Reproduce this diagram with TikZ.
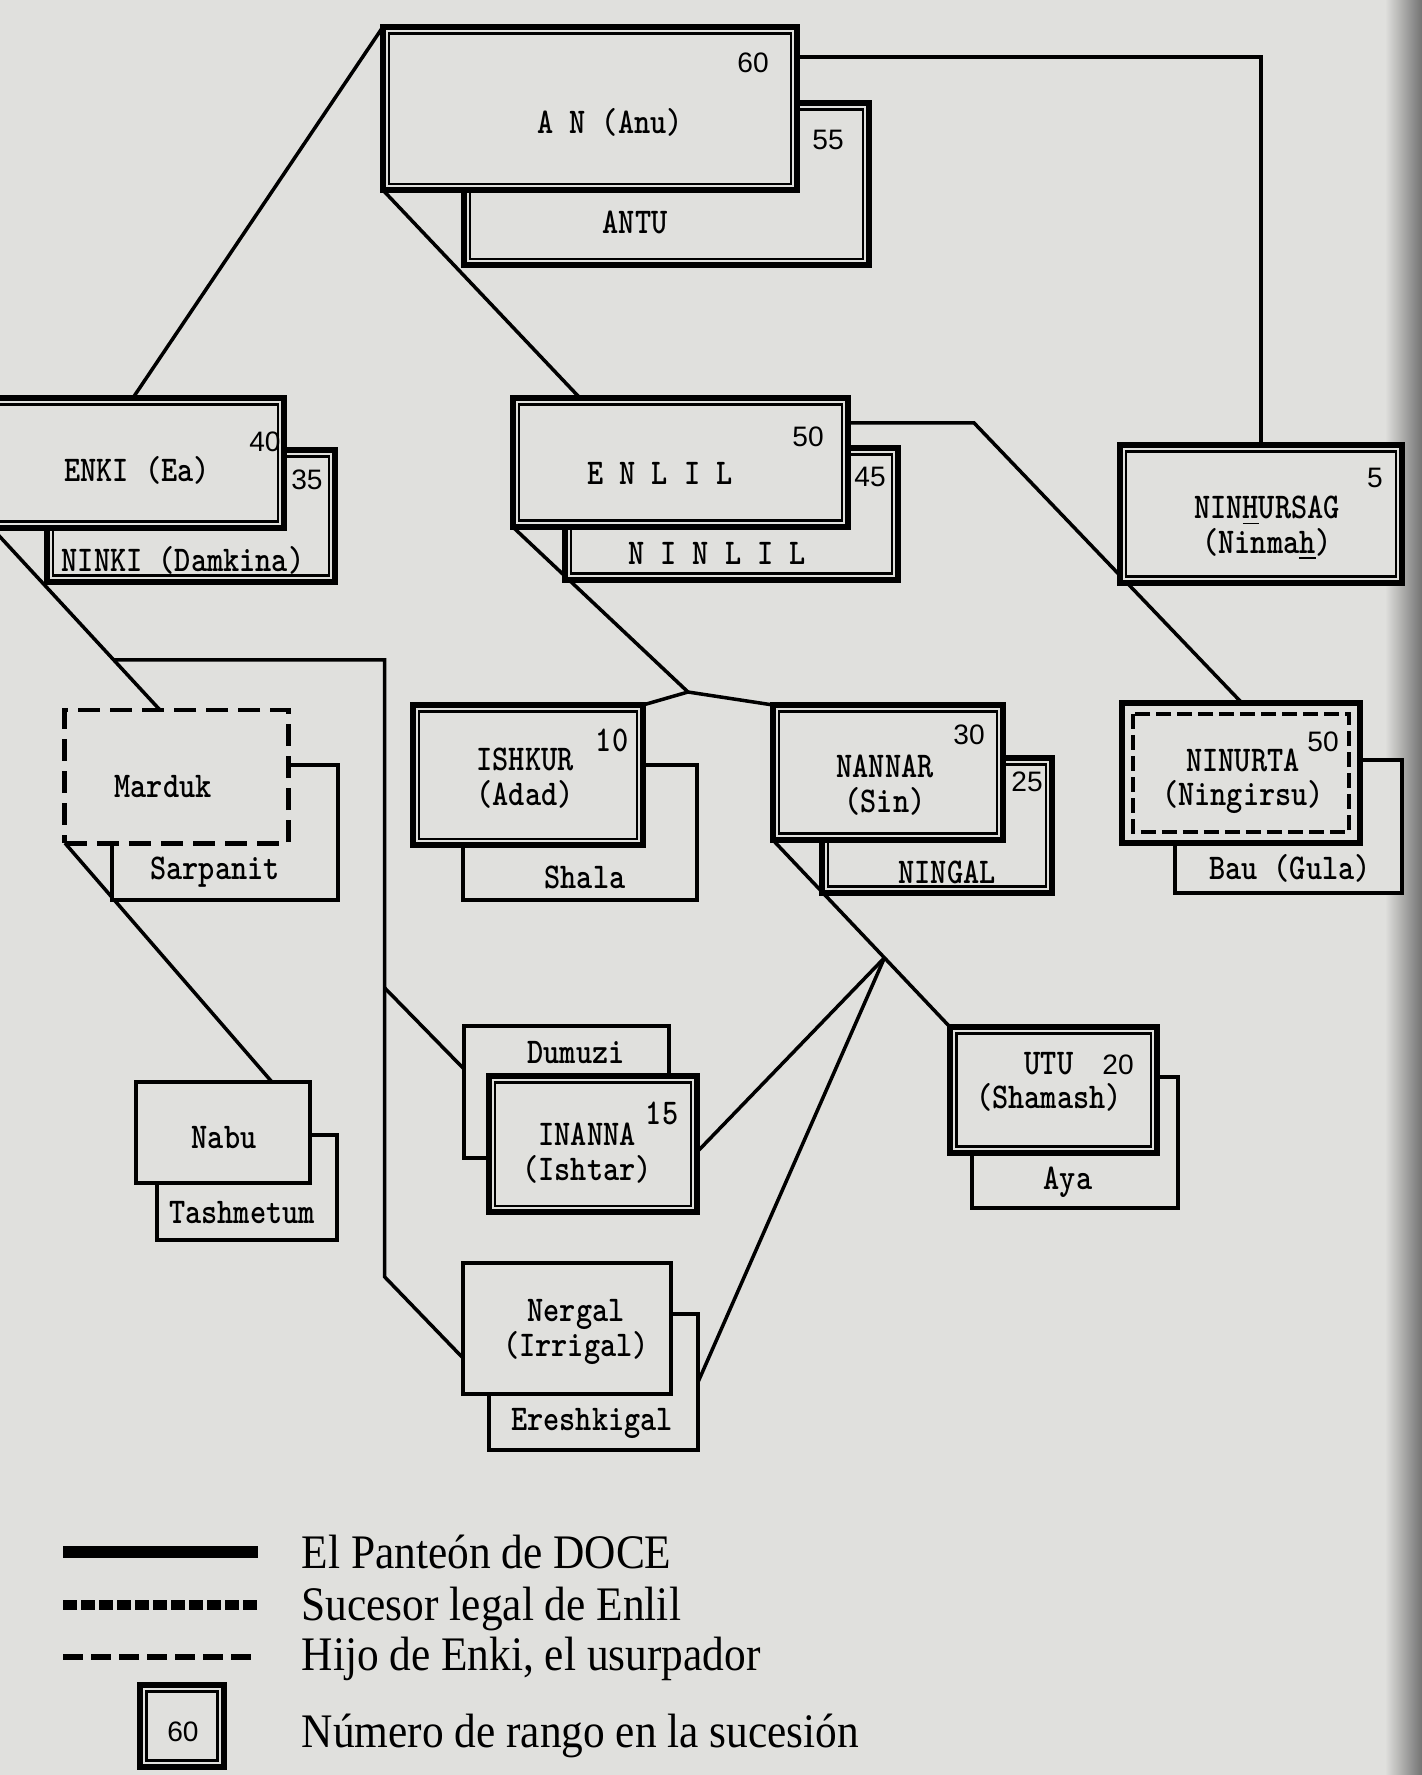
\documentclass[tikz,border=0pt]{standalone}
\usepackage{fontspec}
\setmainfont{Liberation Serif}
\newfontfamily\boxfont[FakeStretch=0.85]{lmmonolt10-bold.otf}
\newfontfamily\numfont{Liberation Sans}
\newfontfamily\legfont[FakeStretch=0.9]{Liberation Serif}
\usetikzlibrary{calc,backgrounds}
\definecolor{paper}{RGB}{224,224,221}
\tikzset{god/.style={draw,line width=1.8pt,fill=paper,outer sep=0pt,inner sep=0pt,
    path picture={\draw[line width=0.6pt] ([shift={(6.5,6.5)}]path picture bounding box.north west) rectangle ([shift={(-6.5,-6.5)}]path picture bounding box.south east);}}}
\tikzset{heir/.style={draw,line width=1.8pt,fill=paper,outer sep=0pt,inner sep=0pt,
    path picture={\draw[line width=1.2pt,dash pattern=on 0.15cm off 0.06cm] ([shift={(11,11)}]path picture bounding box.north west) rectangle ([shift={(-11,-11)}]path picture bounding box.south east);}}}
\tikzset{mate/.style={draw,line width=1.2pt,fill=paper,outer sep=0pt,inner sep=0pt}}
\tikzset{usurper/.style={draw,line width=1.4pt,dash pattern=on 0.22cm off 0.1cm,fill=paper,outer sep=0pt,inner sep=0pt}}
\tikzset{conn/.style={line width=1pt}}
\tikzset{godtxt/.style={font=\boxfont\fontsize{10.3}{9.8}\selectfont,align=center,inner sep=0pt}}
\tikzset{rnk/.style={font=\numfont\fontsize{8}{9}\selectfont,inner sep=0pt}}
\tikzset{legtxt/.style={font=\legfont\fontsize{13.7}{15}\selectfont,inner sep=0pt}}

\begin{document}
\begin{tikzpicture}[x=0.01cm,y=-0.01cm]
            \useasboundingbox (0,0) rectangle (1422,1775);
            % couples: partner behind, god in front
            \node[god, minimum width=4.05cm, minimum height=1.62cm] (antu) at (666.5,184) {};
            \node[god, minimum width=4.14cm, minimum height=1.63cm] (an) at (590,108.5) {};
            \node[god, minimum width=2.88cm, minimum height=1.32cm] (ninki) at (191,516) {};
            \node[god, minimum width=2.92cm, minimum height=1.30cm] (enki) at (138,463) {};
            \node[god, minimum width=3.33cm, minimum height=1.32cm] (ninlil) at (731.5,514) {};
            \node[god, minimum width=3.35cm, minimum height=1.29cm] (enlil) at (680.5,462.5) {};
            \node[god, minimum width=2.82cm, minimum height=1.38cm] (nhur) at (1261,514) {};
            \node[mate, minimum width=2.26cm, minimum height=1.35cm] (sarp) at (225,832.5) {};
            \node[usurper, minimum width=2.23cm, minimum height=1.33cm] (marduk) at (176.5,776.5) {};
            \node[mate, minimum width=2.34cm, minimum height=1.35cm] (shala) at (580,832.5) {};
            \node[god, minimum width=2.30cm, minimum height=1.40cm] (ishkur) at (528,775) {};
            \node[god, minimum width=2.30cm, minimum height=1.35cm] (ningal) at (937,825.5) {};
            \node[god, minimum width=2.30cm, minimum height=1.35cm] (nannar) at (888,772.5) {};
            \node[mate, minimum width=2.27cm, minimum height=1.33cm] (bau) at (1288.5,826.5) {};
            \node[heir, minimum width=2.38cm, minimum height=1.40cm] (ninurta) at (1241,773) {};
            \node[mate, minimum width=1.80cm, minimum height=1.05cm] (tash) at (247,1187.5) {};
            \node[mate, minimum width=1.74cm, minimum height=1.01cm] (nabu) at (223,1132.5) {};
            \node[mate, minimum width=2.05cm, minimum height=1.32cm] (dumuzi) at (566.5,1092) {};
            \node[god, minimum width=2.08cm, minimum height=1.36cm] (inanna) at (593,1144) {};
            \node[mate, minimum width=2.06cm, minimum height=1.31cm] (aya) at (1075,1142.5) {};
            \node[god, minimum width=2.07cm, minimum height=1.26cm] (utu) at (1053.5,1090) {};
            \node[mate, minimum width=2.09cm, minimum height=1.36cm] (eresh) at (593.5,1382) {};
            \node[mate, minimum width=2.08cm, minimum height=1.31cm] (nergal) at (567,1328.5) {};
            % names
            \node[godtxt] (anl) at (610,122) {A N (Anu)};
            \node[godtxt] (antul) at (635,222) {ANTU};
            \node[godtxt] (enkil) at (137,470) {ENKI (Ea)};
            \node[godtxt] (ninkil) at (183,560) {NINKI (Damkina)};
            \node[godtxt] (enlill) at (660,473) {E N L I L};
            \node[godtxt] (ninlill) at (717,553) {N I N L I L};
            \node[godtxt] (nhurl) at (1267,528) {NIN\underline{H}URSAG\\(Ninma\underline{h})};
            \node[godtxt] (mardukl) at (163,787) {Marduk};
            \node[godtxt] (sarpl) at (215,872) {Sarpanit};
            \node[godtxt] (ishkurl) at (525,778) {ISHKUR\\(Adad)};
            \node[godtxt] (shalal) at (585,877) {Shala};
            \node[godtxt] (nannarl) at (885,785) {NANNAR\\(Sin)};
            \node[godtxt] (ningall) at (947,872) {NINGAL};
            \node[godtxt] (ninurtal) at (1243,781) {NINURTA\\(Ningirsu)};
            \node[godtxt] (baul) at (1290,868) {Bau (Gula)};
            \node[godtxt] (nabul) at (224,1138) {Nabu};
            \node[godtxt] (tashl) at (242,1213) {Tashmetum};
            \node[godtxt] (dumuzil) at (576,1053) {Dumuzi};
            \node[godtxt] (inannal) at (587,1153) {INANNA\\(Ishtar)};
            \node[godtxt] (utul) at (1049,1082) {UTU\\(Shamash)};
            \node[godtxt] (ayal) at (1068,1182) {Aya};
            \node[godtxt] (nergall) at (576,1332) {Nergal\\(Irrigal)};
            \node[godtxt] (ereshl) at (592,1423) {Ereshkigal};
            % rank numbers
            \node[rnk] (r60) at (753,63) {60};
            \node[rnk] (r55) at (828,140) {55};
            \node[rnk] (r40) at (265,442) {40};
            \node[rnk] (r35) at (307,480) {35};
            \node[rnk] (r50) at (808,437) {50};
            \node[rnk] (r45) at (870,477) {45};
            \node[rnk] (r5) at (1375,478) {5};
            \node[rnk, font=\boxfont\fontsize{10.3}{10}\selectfont] (r10) at (612,740) {10};
            \node[rnk] (r30) at (969,735) {30};
            \node[rnk] (r25) at (1027,782) {25};
            \node[rnk] (r50b) at (1323,742) {50};
            \node[rnk, font=\boxfont\fontsize{10.3}{10}\selectfont] (r15) at (662,1113) {15};
            \node[rnk] (r20) at (1118,1065) {20};
            % lines of descent
            \begin{scope}[on background layer]
            \fill[paper] (0,0) rectangle (1422,1775);
            \shade[left color=paper, right color=black!55] (1385,0) rectangle (1422,1775);
            \draw[conn] (an.north west) -- ($(enki.north west)+(141,0)$);
            \draw[conn] (an.south west) -- ($(enlil.north west)+(67,0)$);
            \draw[conn] ($(an.north east)+(0,30)$) -| (nhur.north);
            \draw[conn] ($(enlil.north east)+(0,25)$) -- ++(126,0) -- ($(ninurta.north west)+(120,0)$);
            \coordinate (jn) at (688,692);
            \draw[conn] (enlil.south west) -- (jn) -- (ishkur.north east);
            \draw[conn] (jn) -- (nannar.north west);
            \coordinate (mdtop) at ($(marduk.north west)+(95,0)$);
            \draw[conn] (enki.south west) -- (mdtop);
            \coordinate (br) at ($(enki.south west)!0.725!(mdtop)$);
            \draw[conn] (br) -- ++(271,0) coordinate (brr) -- ++(0,617) -- ($(nergal.north west)+(0,95)$);
            \coordinate (vd) at ($(brr)+(0,328)$);
            \draw[conn] (vd) -- ($(dumuzi.north west)+(0,43)$);
            \draw[conn] (marduk.south west) -- ($(nabu.north west)+(136,0)$);
            \draw[conn] (nannar.south west) -- (utu.north west);
            \coordinate (fan) at ($(nannar.south west)!0.63!(utu.north west)$);
            \draw[conn] (fan) -- ($(inanna.north east)+(0,76)$);
            \draw[conn] (fan) -- ($(eresh.north east)+(0,68)$);
            \end{scope}
            % legend
            \draw[line width=3.4pt] (63,1552) -- (258,1552);
            \draw[line width=2.6pt, dash pattern=on 0.14cm off 0.04cm] (63,1605) -- (258,1605);
            \draw[line width=1.5pt, dash pattern=on 0.2cm off 0.08cm] (63,1657) -- (258,1657);
            \node[god, minimum width=0.84cm, minimum height=0.82cm] (lgbox) at (182,1726) {};
            \node[rnk] (lg60) at (183,1732) {60};
            \node[legtxt, anchor=base west] (lg1) at (301,1568) {El Panteón de DOCE};
            \node[legtxt, anchor=base west] (lg2) at (301,1620) {Sucesor legal de Enlil};
            \node[legtxt, anchor=base west] (lg3) at (301,1670) {Hijo de Enki, el usurpador};
            \node[legtxt, anchor=base west] (lg4) at (301,1747) {Número de rango en la sucesión};
        \end{tikzpicture}
\end{document}
